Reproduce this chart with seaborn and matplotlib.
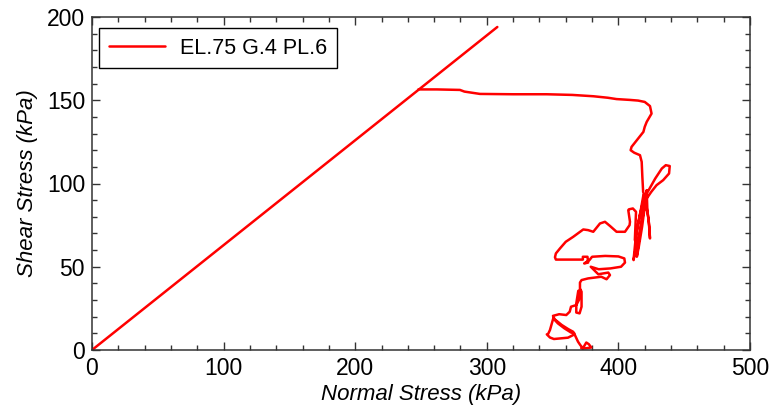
import matplotlib
matplotlib.use("Agg")
import matplotlib.pyplot as plt
from matplotlib.ticker import MultipleLocator
import pandas as pd
import seaborn as sns

# Failure envelope through the origin
envelope_normal = [0, 308]
envelope_shear = [0, 194]

# Stress path (normal stress, shear stress) in kPa
normal_stress = [
    248, 262, 279.6, 283, 294.8, 320, 345.5, 365, 381, 392, 398.6, 408.8, 415, 420,
    424, 425.2, 423, 421.5, 420, 419, 414, 410, 409.3, 412, 416.4, 417.7, 418.2,
    418.8, 420, 423, 428, 433, 436, 439, 438.5, 434, 429, 425, 421.5, 419, 416,
    413, 411.5, 413, 416, 419, 420, 418, 415.5, 414, 416, 418.5, 420.5, 421.5,
    422, 423.5, 424, 423, 421, 419, 417, 414, 412.5, 413.4, 411, 408, 407.5,
    408.8, 408.5, 405, 398.6, 393.6, 389.8, 386, 383, 380.9, 377, 373.3, 365.7,
    360, 355.6, 352.5, 351.8, 352.5, 360, 373, 373, 376.5, 377, 374, 378, 380,
    390, 400, 404.5, 405, 402, 394, 385, 379, 384.7, 392.3, 393.6, 391, 387, 377,
    372, 370.8, 370.8, 369.5, 368, 368, 370.5, 372, 372, 371, 370, 368, 364, 363,
    360.4, 355, 350.3, 351.5, 357, 362, 365.5, 366.5, 364, 359, 354, 350.5, 348,
    346.5, 345.6, 348, 351, 356, 361.7, 366.7, 369.3, 371, 373, 375.6, 377.5,
    379.4, 375, 371.8,
]
shear_stress = [
    156.5, 156.5, 156.2, 155.2, 153.8, 153.6, 153.6, 153.2, 152.4, 151.5, 150.7,
    150.2, 149.8, 149, 146.5, 142, 139, 137, 134, 131, 126, 122, 120, 118.5, 117,
    113, 104, 95, 92, 96, 103, 109, 111, 110.5, 106, 102, 99, 95, 91, 82, 70, 60,
    54, 66, 80, 90, 86, 74, 62, 56, 68, 82, 92, 96, 84, 74, 67, 78, 88, 93, 84,
    72, 66, 83, 85, 84.5, 84, 77, 75, 71, 71, 74.5, 77, 76, 73, 71, 72, 72.4, 68,
    65, 61, 58, 55.7, 54.3, 54.3, 54.3, 56, 56, 52.5, 52, 54, 56, 56.5, 56.2, 55,
    52.5, 50, 49, 48.5, 50, 45.5, 46.5, 45, 42.5, 44, 43, 42, 40.5, 36, 35.5, 28,
    22.5, 22, 26, 35, 36.5, 30, 27, 26, 23, 21, 21.5, 20.5, 18.5, 15, 12.5, 11,
    10, 10.5, 13, 16, 19, 12, 9.5, 9.4, 7.5, 6.6, 7, 7.4, 9.4, 5, 3, 1, 4.5, 3.5,
    1.5, 1, 1,
]

series_label = "EL.75 G.4 PL.6"
x_ticks = [0, 100, 200, 300, 400, 500]
y_ticks = [0, 50, 100, 150, 200]

sns.set_theme(style="ticks")
plt.rcParams["font.family"] = ["Liberation Sans", "DejaVu Sans"]
plt.rcParams["text.color"] = "black"
plt.rcParams["axes.labelcolor"] = "black"

path_df = pd.DataFrame({"normal": normal_stress, "shear": shear_stress})
env_df = pd.DataFrame({"normal": envelope_normal, "shear": envelope_shear})

fig = plt.figure(figsize=(7.74, 4.16), dpi=100)
ax = fig.add_axes([92 / 774, 66 / 416, 658 / 774, 333 / 416])

red = "#ff0000"
sns.lineplot(data=env_df, x="normal", y="shear", ax=ax, color=red, lw=1.8,
             sort=False, estimator=None)
sns.lineplot(data=path_df, x="normal", y="shear", ax=ax, color=red, lw=1.8,
             sort=False, estimator=None, label=series_label)

ax.set_xlim(0, 500)
ax.set_ylim(0, 200)
ax.set_xticks(x_ticks)
ax.set_yticks(y_ticks)
ax.xaxis.set_minor_locator(MultipleLocator(20))
ax.yaxis.set_minor_locator(MultipleLocator(10))

ax.tick_params(which="both", direction="in", top=True, right=True,
               colors="#333333", labelcolor="black", width=1.0)
ax.tick_params(which="major", length=6, labelsize=16.5, pad=5)
ax.tick_params(which="minor", length=3.5)
for sp in ax.spines.values():
    sp.set_visible(True)
    sp.set_color("#333333")
    sp.set_linewidth(1.1)

ax.set_xlabel("Normal Stress (kPa)", fontsize=16, style="italic", labelpad=3)
ax.set_ylabel("Shear Stress (kPa)", fontsize=16, style="italic", labelpad=6)

leg = ax.legend(loc="upper left", bbox_to_anchor=(0.0106, 0.967), fontsize=15.5,
                frameon=True, fancybox=False, framealpha=1, edgecolor="black",
                borderpad=0.45, handlelength=2.6, handletextpad=0.7,
                borderaxespad=0)
leg.get_frame().set_linewidth(1.0)

fig.savefig("out.png", dpi=100, facecolor="white")
